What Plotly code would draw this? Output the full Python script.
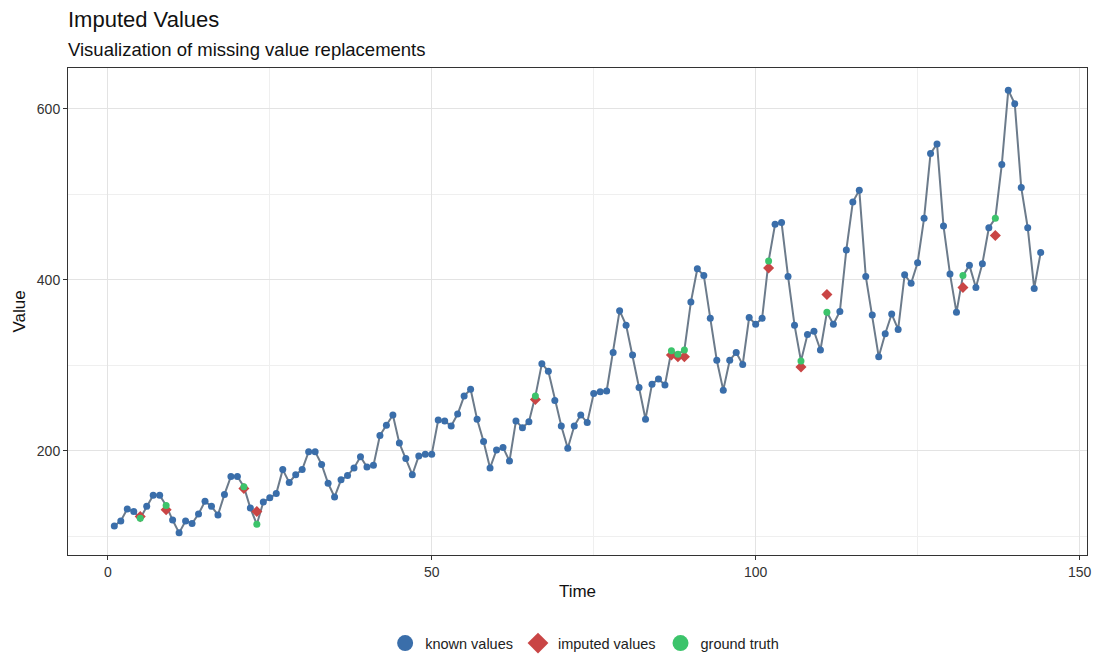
import plotly.graph_objects as go

# AirPassengers-style series (ground truth)
truth = [112, 118, 132, 129, 121, 135, 148, 148, 136, 119, 104, 118,
         115, 126, 141, 135, 125, 149, 170, 170, 158, 133, 114, 140,
         145, 150, 178, 163, 172, 178, 199, 199, 184, 162, 146, 166,
         171, 180, 193, 181, 183, 218, 230, 242, 209, 191, 172, 194,
         196, 196, 236, 235, 229, 243, 264, 272, 237, 211, 180, 201,
         204, 188, 235, 227, 234, 264, 302, 293, 259, 229, 203, 229,
         242, 233, 267, 269, 270, 315, 364, 347, 312, 274, 237, 278,
         284, 277, 317, 313, 318, 374, 413, 405, 355, 306, 271, 306,
         315, 301, 356, 348, 355, 422, 465, 467, 404, 347, 305, 336,
         340, 318, 362, 348, 363, 435, 491, 505, 404, 359, 310, 337,
         360, 342, 406, 396, 420, 472, 548, 559, 463, 407, 362, 405,
         417, 391, 419, 461, 472, 535, 622, 606, 508, 461, 390, 432]
time = list(range(1, len(truth) + 1))

missing_idx = [5, 9, 21, 23, 66, 87, 88, 89, 102, 107, 111, 132, 137]
imputed_vals = [123, 131, 156, 129, 260, 312, 310, 310, 414, 298, 383, 391, 452]

known_y = [None if t in missing_idx else v for t, v in zip(time, truth)]
truth_missing = [truth[t - 1] for t in missing_idx]

C_LINE = "#6C7B8B"
C_KNOWN = "#3A6EAA"
C_IMP = "#C94545"
C_TRUTH = "#3CC46B"

fig = go.Figure()
fig.add_trace(go.Scatter(x=time, y=truth, mode="lines",
                         line=dict(color=C_LINE, width=2), showlegend=False,
                         hoverinfo="skip"))
fig.add_trace(go.Scatter(x=time, y=known_y, mode="markers", name="known values",
                         marker=dict(color=C_KNOWN, size=7), showlegend=False))
fig.add_trace(go.Scatter(x=missing_idx, y=imputed_vals, mode="markers", name="imputed values",
                         marker=dict(color=C_IMP, size=8.5, symbol="diamond"), showlegend=False))
fig.add_trace(go.Scatter(x=missing_idx, y=truth_missing, mode="markers", name="ground truth",
                         marker=dict(color=C_TRUTH, size=7), showlegend=False))

# legend entries
for name, col, sym in [("known values", C_KNOWN, "circle"),
                       ("imputed values", C_IMP, "diamond"),
                       ("ground truth", C_TRUTH, "circle")]:
    fig.add_trace(go.Scatter(x=[None], y=[None], mode="markers", name=name,
                             marker=dict(color=col, size=20, symbol=sym), showlegend=True))

fig.update_layout(
    width=1099, height=655,
    margin=dict(l=68, r=12, t=68, b=100, autoexpand=False),
    paper_bgcolor="white", plot_bgcolor="white",
    font=dict(family="Liberation Sans, Arial, sans-serif", color="#222222", size=14),
    legend=dict(orientation="h", x=0.507, xanchor="center", y=-0.181, yanchor="middle",
                font=dict(size=14.5, color="#222222"), itemsizing="trace"),
    annotations=[
        dict(text="Imputed Values", xref="paper", yref="paper", x=-0.002, y=1.0,
             xanchor="left", yanchor="bottom", yshift=34, showarrow=False,
             font=dict(size=22, color="#111111")),
        dict(text="Visualization of missing value replacements", xref="paper", yref="paper",
             x=-0.002, y=1.0, xanchor="left", yanchor="bottom", yshift=6, showarrow=False,
             font=dict(size=18.5, color="#111111")),
    ],
)
fig.update_xaxes(range=[-6.15, 151.15], tick0=0, dtick=50, showgrid=True, automargin=False,
                 gridcolor="#E3E3E3", gridwidth=1, zeroline=False,
                 ticks="outside", ticklen=4, tickcolor="#333333",
                 tickfont=dict(size=14, color="#333333"),
                 title=dict(text="Time", font=dict(size=17, color="#111111"), standoff=6),
                 showline=True, linecolor="#333333", linewidth=1, mirror=True,
                 minor=dict(dtick=25, tick0=0, showgrid=True, gridcolor="#EFEFEF", gridwidth=1))
fig.update_yaxes(range=[78.1, 647.9], tick0=0, dtick=200, showgrid=True, automargin=False,
                 gridcolor="#E3E3E3", gridwidth=1, zeroline=False,
                 ticks="outside", ticklen=4, tickcolor="#333333",
                 tickfont=dict(size=14, color="#333333"),
                 title=dict(text="Value", font=dict(size=17, color="#111111"), standoff=6),
                 showline=True, linecolor="#333333", linewidth=1, mirror=True,
                 minor=dict(dtick=100, tick0=0, showgrid=True, gridcolor="#EFEFEF", gridwidth=1))

fig.write_html("out.html", config={"displayModeBar": False},
               post_script="document.body.style.margin='0';document.body.style.overflow='hidden';")
